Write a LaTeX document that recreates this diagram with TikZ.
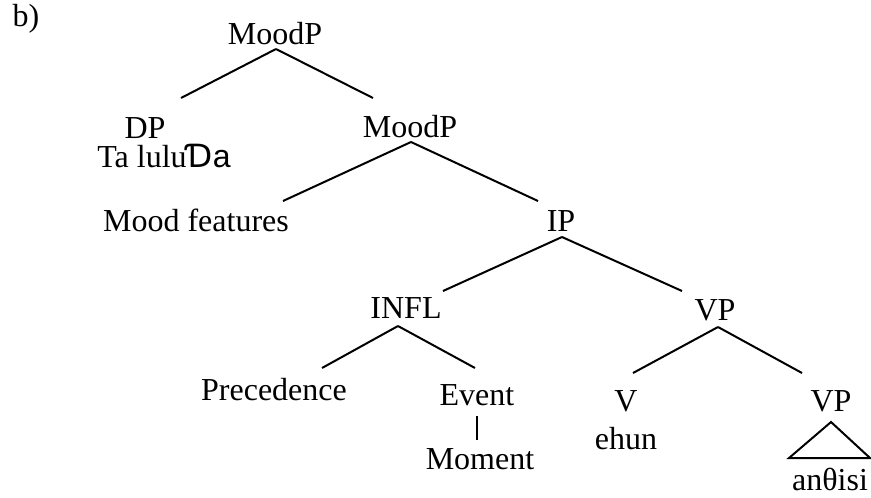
\documentclass[tikz,border=0pt]{standalone}
\usepackage{fontspec}
\setmainfont{Liberation Serif}
\newfontfamily\hookfont{DejaVu Sans}
\setsansfont{Liberation Sans}
\begin{document}
\begin{tikzpicture}
  [x=0.375pt,y=-0.375pt,every node/.style={inner sep=0pt,anchor=base,font=\fontsize{12}{14}\selectfont}]
  \tikzstyle{branch} = [line width=0.75pt]
  \useasboundingbox (0,0) rectangle (871,497);
  \node[anchor=base west] (lbl) at (12,26) {b)};
  \node (mp1) at (275,44) {MoodP};
  \node (dp) at (145,138) {DP};
  \node (lulu) at (164,167) {Ta lulu{\hookfont Ɗ}{\sffamily a}};
  \node (mp2) at (410,137) {MoodP};
  \node (mf) at (196,231) {Mood features};
  \node (ip) at (561,231) {IP};
  \node (infl) at (406,318) {INFL};
  \node (vp1) at (715,320) {VP};
  \node (prec) at (274,400) {Precedence};
  \node (ev) at (477,405) {Event};
  \node (mom) at (480,469) {Moment};
  \node (v) at (626,411) {V};
  \node (ehun) at (626,449) {ehun};
  \node (vp2) at (831,411) {VP};
  \node (anth) at (830,490) {anθisi};

  \coordinate (mp1b) at (276,49);
  \coordinate (dpt) at (181,98);
  \coordinate (mp2t) at (373,98);
  \coordinate (mp2b) at (411,142);
  \coordinate (mft) at (283,201);
  \coordinate (ipt) at (538,201);
  \coordinate (ipb) at (562,237);
  \coordinate (inflt) at (443,291);
  \coordinate (vp1t) at (682,291);
  \coordinate (inflb) at (398,326);
  \coordinate (prect) at (322,368);
  \coordinate (evt) at (475,368);
  \coordinate (vp1b) at (718,327);
  \coordinate (vt) at (633,373);
  \coordinate (vp2t) at (802,373);
  \coordinate (evb) at (477,416);
  \coordinate (momt) at (477,440);
  \coordinate (tri) at (831,422);
  \coordinate (tril) at (789,458);
  \coordinate (trir) at (870,458);

  \foreach \from/\to in {mp1b/dpt,mp1b/mp2t,mp2b/mft,mp2b/ipt,ipb/inflt,ipb/vp1t,
    inflb/prect,inflb/evt,vp1b/vt,vp1b/vp2t,evb/momt}
    \draw[branch] (\from) -- (\to);
  \draw[branch] (tri) -- (tril) -- (trir) -- cycle;

\end{tikzpicture}
\end{document}
